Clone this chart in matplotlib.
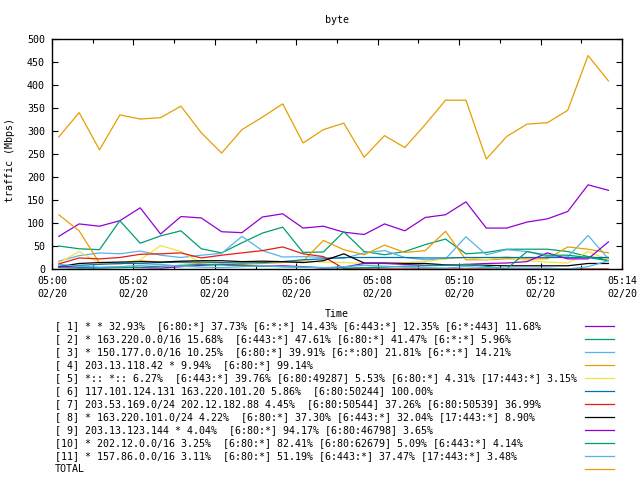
import matplotlib
matplotlib.use("Agg")
import matplotlib.pyplot as plt
import matplotlib.dates as mdates
import pandas as pd

plt.rcParams["font.family"] = "DejaVu Sans Mono"
plt.rcParams["font.size"] = 7.2

# sample times (30 s apart)
times = pd.date_range("2014-02-20 05:00:10", periods=28, freq="30s")

# traffic in Mbps, one list per series
s1 = [71, 98, 93, 105, 133, 76, 114, 111, 81, 79, 113, 120, 89, 93,
      80, 75, 98, 83, 112, 118, 146, 89, 89, 102, 109, 125, 183, 171]
s2 = [50, 44, 42, 105, 56, 72, 83, 44, 35, 57, 78, 91, 36, 37,
      81, 38, 31, 38, 53, 65, 33, 36, 43, 43, 43, 38, 27, 20]
s3 = [17, 29, 35, 33, 39, 30, 25, 30, 34, 71, 40, 26, 27, 25,
      23, 35, 40, 25, 20, 22, 70, 31, 42, 38, 27, 26, 73, 22]
s4 = [118, 83, 13, 11, 18, 15, 14, 12, 10, 10, 12, 14, 17, 62,
      42, 31, 52, 36, 40, 82, 20, 20, 22, 22, 22, 48, 43, 35]
s5 = [13, 38, 13, 12, 20, 51, 38, 13, 10, 12, 14, 16, 18, 15,
      14, 12, 12, 14, 16, 22, 25, 20, 27, 18, 15, 13, 38, 20]
s6 = [5, 8, 10, 12, 12, 14, 15, 15, 14, 13, 14, 16, 20, 22,
      25, 25, 25, 25, 24, 24, 25, 25, 25, 25, 25, 25, 25, 25]
s7 = [11, 24, 22, 25, 32, 33, 35, 24, 30, 35, 40, 48, 33, 27,
      1, 0, 0, 0, 0, 0, 0, 0, 0, 0, 0, 0, 0, 0]
s8 = [5, 12, 14, 15, 16, 15, 17, 18, 18, 16, 17, 16, 14, 18,
      33, 13, 13, 12, 12, 9, 9, 8, 7, 7, 7, 7, 12, 12]
s9 = [6, 4, 3, 4, 3, 2, 5, 8, 10, 8, 6, 7, 5, 2,
      4, 12, 12, 10, 8, 8, 10, 12, 13, 16, 35, 22, 22, 59]
s10 = [3, 2, 2, 3, 4, 6, 8, 10, 9, 7, 6, 5, 4, 3,
       2, 3, 4, 6, 7, 8, 10, 6, 0, 38, 30, 30, 25, 18]
s11 = [10, 6, 4, 5, 8, 10, 6, 4, 3, 5, 7, 5, 4, 3,
       5, 8, 6, 4, 3, 2, 5, 3, 2, 2, 2, 0, 5, 18]
total = [287, 340, 259, 335, 326, 329, 354, 296, 252, 303, 330, 359, 274, 303,
         317, 243, 290, 264, 314, 367, 367, 239, 288, 315, 318, 345, 464, 409]

labels = [
    "[ 1] * * 32.93%  [6:80:*] 37.73% [6:*:*] 14.43% [6:443:*] 12.35% [6:*:443] 11.68%",
    "[ 2] * 163.220.0.0/16 15.68%  [6:443:*] 47.61% [6:80:*] 41.47% [6:*:*] 5.96%",
    "[ 3] * 150.177.0.0/16 10.25%  [6:80:*] 39.91% [6:*:80] 21.81% [6:*:*] 14.21%",
    "[ 4] 203.13.118.42 * 9.94%  [6:80:*] 99.14%",
    "[ 5] *:: *:: 6.27%  [6:443:*] 39.76% [6:80:49287] 5.53% [6:80:*] 4.31% [17:443:*] 3.15%",
    "[ 6] 117.101.124.131 163.220.101.20 5.86%  [6:80:50244] 100.00%",
    "[ 7] 203.53.169.0/24 202.12.182.88 4.45%  [6:80:50544] 37.26% [6:80:50539] 36.99%",
    "[ 8] * 163.220.101.0/24 4.22%  [6:80:*] 37.30% [6:443:*] 32.04% [17:443:*] 8.90%",
    "[ 9] 203.13.123.144 * 4.04%  [6:80:*] 94.17% [6:80:46798] 3.65%",
    "[10] * 202.12.0.0/16 3.25%  [6:80:*] 82.41% [6:80:62679] 5.09% [6:443:*] 4.14%",
    "[11] * 157.86.0.0/16 3.11%  [6:80:*] 51.19% [6:443:*] 37.47% [17:443:*] 3.48%",
    "TOTAL",
]
series = [s1, s2, s3, s4, s5, s6, s7, s8, s9, s10, s11, total]
colors = ["#9400d3", "#009e73", "#56b4e9", "#e69f00", "#f0e442", "#0072b2",
          "#e51e10", "#000000", "#9400d3", "#009e73", "#56b4e9", "#e69f00"]


def main():
    fig = plt.figure(figsize=(6.4, 4.8), dpi=100)
    ax = fig.add_axes([52 / 640, 1 - 269 / 480, 570 / 640, 230 / 480])
    for vals, color in zip(series, colors):
        ax.plot(times, vals, color=color, lw=0.9)

    ax.set_xlim(pd.Timestamp("2014-02-20 05:00"), pd.Timestamp("2014-02-20 05:14"))
    ax.set_ylim(0, 500)
    ax.set_yticks(range(0, 501, 50))
    ax.xaxis.set_major_locator(mdates.MinuteLocator(byminute=range(0, 60, 2)))
    ax.xaxis.set_minor_locator(mdates.MinuteLocator())
    ax.xaxis.set_major_formatter(mdates.DateFormatter("%H:%M\n%m/%d"))
    ax.tick_params(which="both", direction="in", top=True, right=True,
                   labelsize=7.2, width=0.8)
    ax.tick_params(which="major", length=4.5, pad=5)
    ax.tick_params(which="minor", length=3)
    for t in ax.xaxis.get_major_ticks():
        t.label1.set_linespacing(1.35)
    for sp in ax.spines.values():
        sp.set_linewidth(1.0)

    fig.text(337 / 640, 1 - 23 / 480, "byte", ha="center", va="baseline")
    fig.text(337 / 640, 1 - 314 / 480, "Time", ha="center", va="center")
    fig.text(10.5 / 640, 1 - 160 / 480, "traffic (Mbps)", rotation=90,
             ha="center", va="center")

    # legend below the plot: text on the left, sample line on the right
    lax = fig.add_axes([0, 0, 1, 1])
    lax.set_xlim(0, 640)
    lax.set_ylim(480, 0)
    lax.axis("off")
    for i, (label, color) in enumerate(zip(labels, colors)):
        y = 326 + 13 * i
        lax.text(55, y, label, ha="left", va="center", fontsize=7.2)
        lax.plot([585, 614], [y, y], color=color, lw=0.9)

    fig.savefig("out.png", dpi=100)


if __name__ == "__main__":
    main()
